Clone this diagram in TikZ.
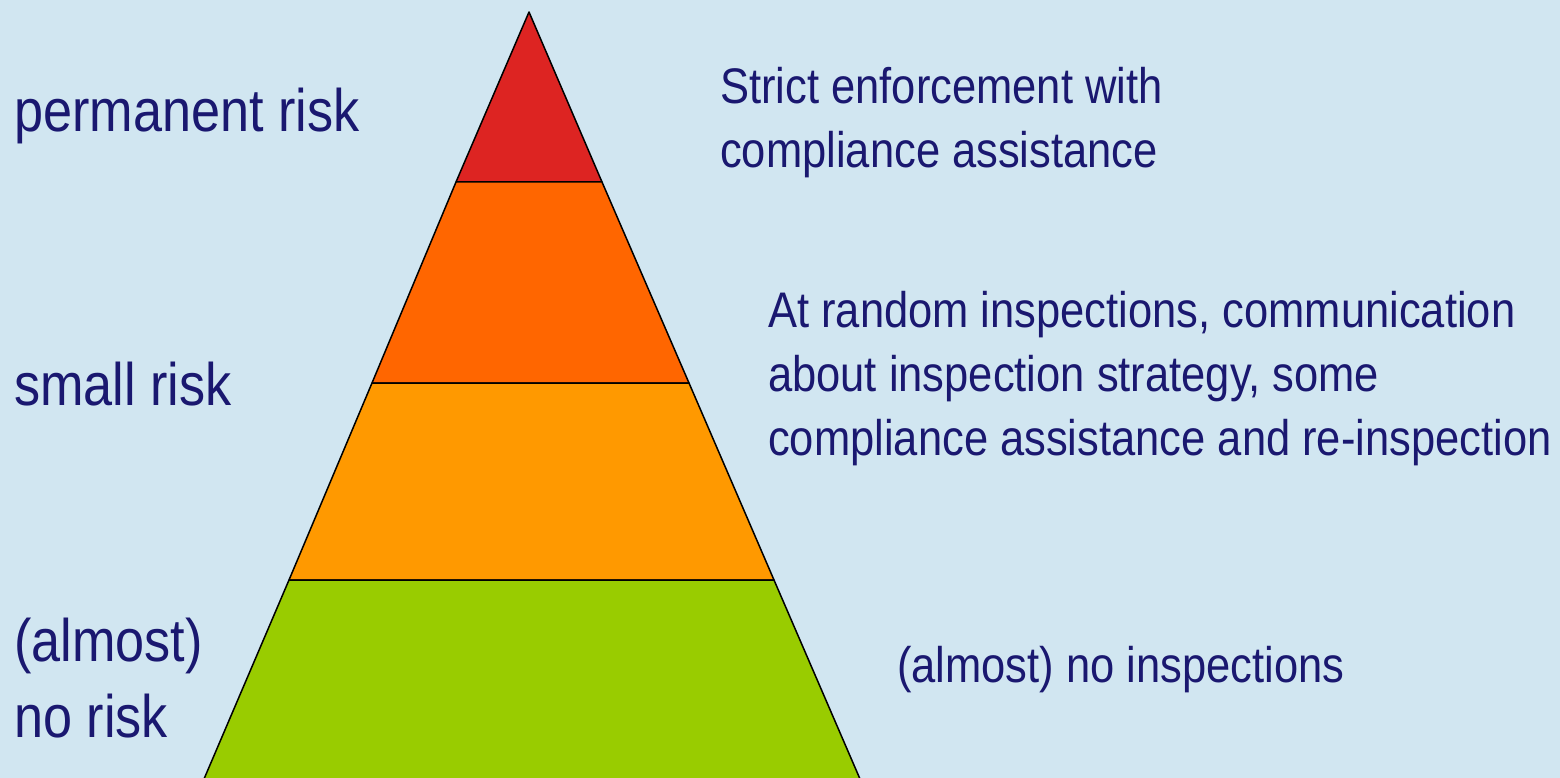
\documentclass[tikz,border=0pt]{standalone}
\usepackage{fontspec}
\setmainfont{Liberation Sans}
\newfontfamily\pyrfont[FakeStretch=0.87]{Liberation Sans}
\usepackage{tikz}
\definecolor{bgblue}{RGB}{209,230,241}
\definecolor{navytext}{RGB}{26,24,112}
\definecolor{topred}{RGB}{221,36,34}
\definecolor{riskorange}{RGB}{255,102,0}
\definecolor{riskamber}{RGB}{255,153,0}
\definecolor{nogreen}{RGB}{153,204,0}

\begin{document}
\begin{tikzpicture}[x=1pt,y=-1pt,
    layer/.style={draw=black,line width=1.5pt,line join=round},
    risk label/.style={anchor=base west,inner sep=0pt,align=left,text=navytext,
      font=\pyrfont\fontsize{60}{76}\selectfont},
    action label/.style={anchor=base west,inner sep=0pt,align=left,text=navytext,
      font=\pyrfont\fontsize{50}{64}\selectfont}]
  \fill[bgblue] (0,0) rectangle (1560,778);
  \useasboundingbox (0,0) rectangle (1560,778);
  % pyramid corners
  \coordinate (apex) at (529,12);
  \coordinate (l1) at (456,182);  \coordinate (r1) at (602,182);
  \coordinate (l2) at (372,383);  \coordinate (r2) at (689,383);
  \coordinate (l3) at (289,580);  \coordinate (r3) at (774,580);
  \coordinate (l4) at (204,779);  \coordinate (r4) at (860,779);
  \draw[layer,fill=topred] (apex) -- (r1) -- (l1) -- cycle;
  \draw[layer,fill=riskorange] (l1) -- (r1) -- (r2) -- (l2) -- cycle;
  \draw[layer,fill=riskamber] (l2) -- (r2) -- (r3) -- (l3) -- cycle;
  \draw[layer,fill=nogreen] (l3) -- (r3) -- (r4) -- (l4) -- cycle;
  % risk levels (base = last line)
  \node[risk label] (permanent) at (14,132) {permanent risk};
  \node[risk label] (small) at (14,405) {small risk};
  \node[risk label] (norisk) at (14,737) {(almost)\\no risk};
  % approach per level
  \node[action label] (strict) at (720,168) {Strict enforcement with\\compliance assistance};
  \node[action label] (random) at (768,455) {At random inspections, communication\\about inspection strategy, some\\compliance assistance and re-inspection};
  \node[action label] (noinsp) at (897,682) {(almost) no inspections};
\end{tikzpicture}
\end{document}
